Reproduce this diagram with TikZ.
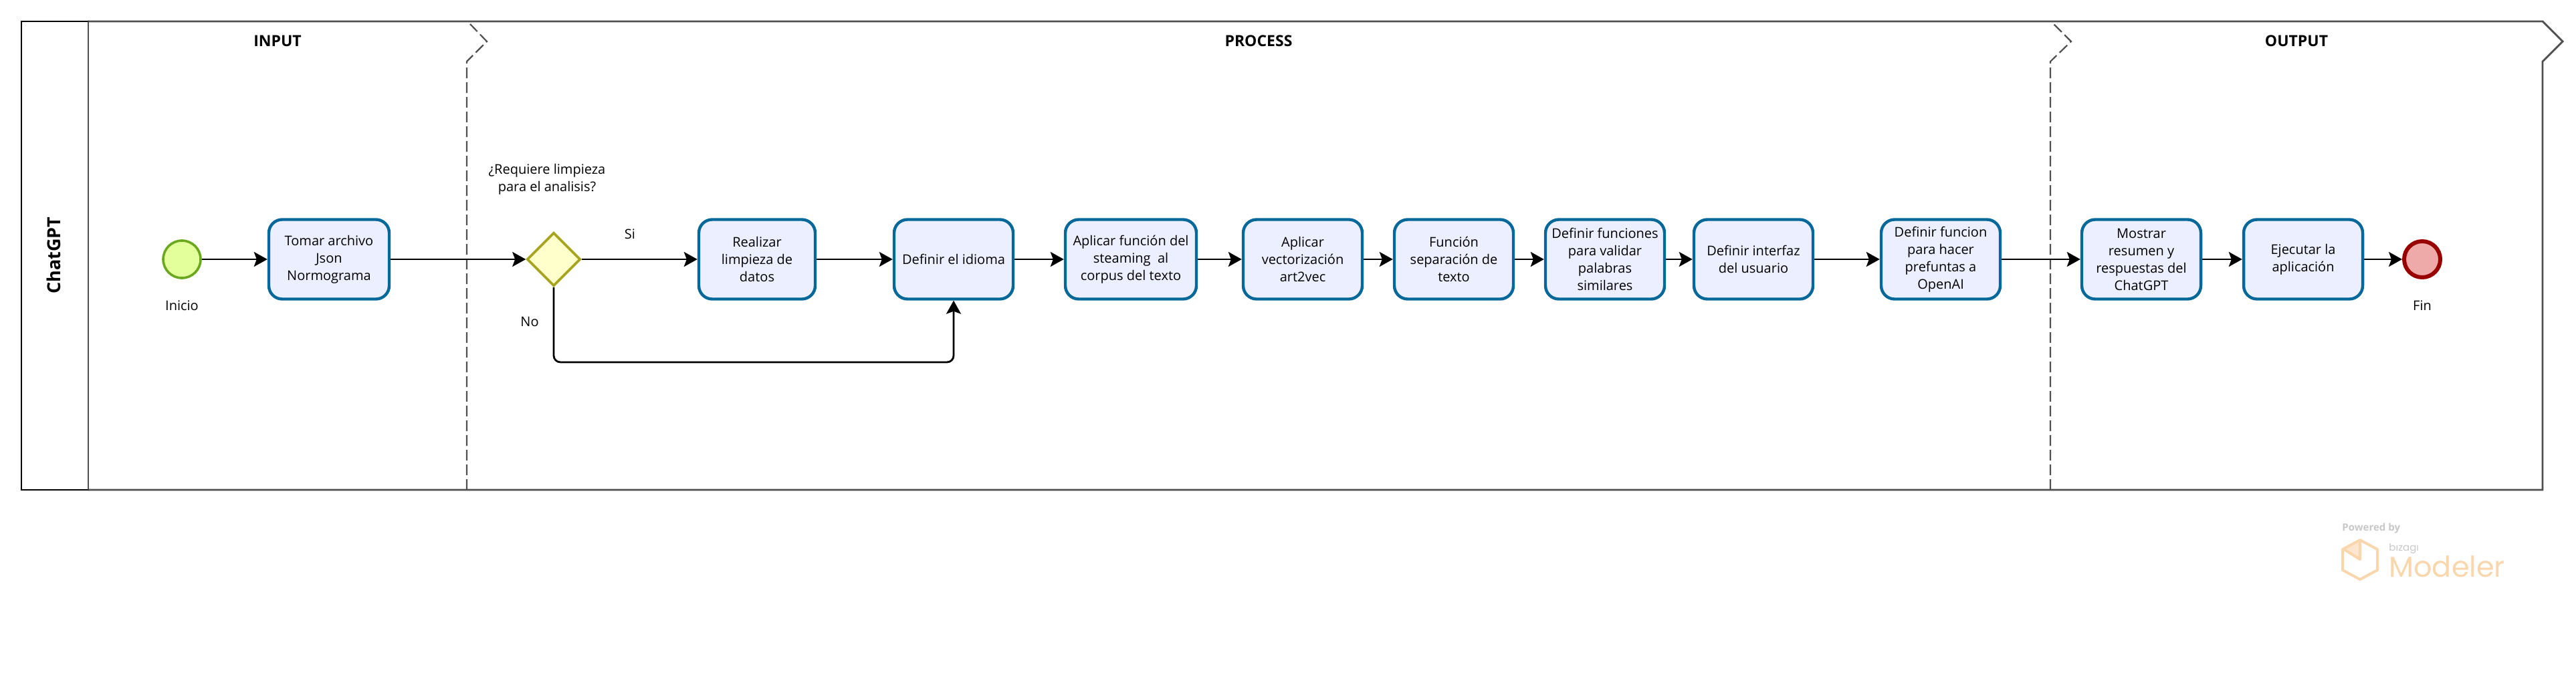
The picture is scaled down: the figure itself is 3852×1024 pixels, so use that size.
\documentclass[tikz,border=0pt]{standalone}
\usepackage{fontspec}
\usepackage{xcolor}
\usetikzlibrary{arrows.meta,shapes.geometric}
\setmainfont{Open Sans}
\newfontfamily\logofont{Poppins}
\definecolor{taskblue}{HTML}{04689B}
\definecolor{taskfill}{HTML}{ECEFFF}
\definecolor{poolgray}{HTML}{505050}
\definecolor{startgreen}{HTML}{6AA91F}
\definecolor{startfill}{HTML}{E2FF9C}
\definecolor{gateolive}{HTML}{A6A31F}
\definecolor{gatefill}{HTML}{FFFFCC}
\definecolor{endred}{HTML}{990000}
\definecolor{endfill}{HTML}{EEA9A9}
\definecolor{logoorange}{HTML}{F9D6AC}
\definecolor{logowedge}{HTML}{FCE6CF}
\definecolor{logogray}{HTML}{C8C8C8}
\tikzset{
    taskbox/.style={draw=taskblue, fill=taskfill, line width=2.2pt, rounded corners=10pt, align=center, minimum width=89pt, minimum height=59.5pt, inner sep=0pt, font=\fontsize{10}{13}\selectfont},
    startev/.style={circle, draw=startgreen, fill=startfill, line width=1.8pt, minimum size=28pt, inner sep=0pt},
    endev/.style={circle, draw=endred, fill=endfill, line width=3pt, minimum size=27pt, inner sep=0pt},
    gatebox/.style={diamond, draw=gateolive, fill=gatefill, line width=1.8pt, minimum size=40pt, inner sep=0pt},
    flowline/.style={draw=black, line width=1.4pt, -{Stealth[length=10pt,width=11pt,inset=2pt]}},
    poolline/.style={draw=poolgray, line width=1.4pt},
    phaseline/.style={draw=poolgray, line width=1.1pt, dash pattern=on 8pt off 3pt},
    phasetitle/.style={font=\fontsize{11.5}{14}\selectfont\bfseries},
    textnote/.style={align=center, font=\fontsize{10}{13}\selectfont}
}

\begin{document}
\begin{tikzpicture}[x=0.5pt,y=-0.5pt]
        \useasboundingbox (0,0) rectangle (3852,1024);

        \draw[poolline] (132,32) -- (3802,32) -- (3832,62) -- (3802,92) -- (3802,733) -- (132,733);
        \draw[draw=black, line width=1.2pt] (32,32) rectangle (132,733);
        \draw[poolline] (132,32) -- (132,733);
        \draw[phaseline] (698,733) -- (698,92) -- (728,62) -- (703,36);
        \draw[phaseline] (3066,733) -- (3066,92) -- (3097,62) -- (3071,36);

        \node[phasetitle, font=\fontsize{13.5}{14}\selectfont\bfseries, rotate=90] (carril) at (80,382) {ChatGPT};
        \node[phasetitle] (input) at (415,61) {INPUT};
        \node[phasetitle] (process) at (1882,61) {PROCESS};
        \node[phasetitle] (output) at (3434,61) {OUTPUT};

        \node[startev] (inicio) at (272,388) {};
        \node[textnote] (inicioLabel) at (272,457) {Inicio};
        \node[taskbox, minimum width=90pt] (tomar) at (492,388) {Tomar archivo\\Json\\Normograma};
        \node[gatebox] (gate) at (828,388) {};
        \node[textnote] (gateLabel) at (818,268) {¿Requiere limpieza\\para el analisis?};
        \node[textnote] (siLabel) at (942,350) {Si};
        \node[textnote] (noLabel) at (792,481) {No};
        \node[taskbox, minimum width=87pt] (limpieza) at (1132,388) {Realizar\\limpieza de\\datos};
        \node[taskbox] (idioma) at (1426,388) {Definir el idioma};
        \node[taskbox, minimum width=98pt] (steaming) at (1691,388) {Aplicar función del\\steaming~~al\\corpus del texto};
        \node[taskbox] (vector) at (1948,388) {Aplicar\\vectorización\\art2vec};
        \node[taskbox] (separa) at (2174,388) {Función\\separación de\\texto};
        \node[taskbox] (validar) at (2400,388) {Definir funciones\\para validar\\palabras\\similares};
        \node[taskbox] (interfaz) at (2622,388) {Definir interfaz\\del usuario};
        \node[taskbox] (openai) at (2902,388) {Definir funcion\\para hacer\\prefuntas a\\OpenAI};
        \node[taskbox] (mostrar) at (3202,388) {Mostrar\\resumen y\\respuestas del\\ChatGPT};
        \node[taskbox] (ejecutar) at (3444,388) {Ejecutar la\\aplicación};
        \node[endev] (fin) at (3622,388) {};
        \node[textnote] (finLabel) at (3622,457) {Fin};

        \coordinate (desvio) at (1126,542);

        \draw[flowline] (inicio) -- (tomar);
        \draw[flowline] (tomar) -- (gate);
        \draw[flowline] (gate) -- (limpieza);
        \draw[flowline] (limpieza) -- (idioma);
        \draw[flowline, rounded corners=5pt] (gate.south) |- (desvio) -| (idioma.south);
        \draw[flowline] (idioma) -- (steaming);
        \draw[flowline] (steaming) -- (vector);
        \draw[flowline] (vector) -- (separa);
        \draw[flowline] (separa) -- (validar);
        \draw[flowline] (validar) -- (interfaz);
        \draw[flowline] (interfaz) -- (openai);
        \draw[flowline] (openai) -- (mostrar);
        \draw[flowline] (mostrar) -- (ejecutar);
        \draw[flowline] (ejecutar) -- (fin);

        \fill[logowedge] (3529,808) -- (3529,837) -- (3505,822) -- cycle;
        \draw[logoorange, line width=2pt, line join=round] (3529,808) -- (3555,822) -- (3555,853) -- (3529,867) -- (3503,853) -- (3503,822) -- cycle;
        \draw[logoorange, line width=2pt, line join=round] (3529,808) -- (3529,837) -- (3505,822);
        \node[anchor=base west, inner sep=0pt, text=logogray, font=\fontsize{7.5}{9}\selectfont\bfseries] (powered) at (3502,794) {Powered by};
        \node[anchor=base west, inner sep=0pt, text=logogray, font=\logofont\fontsize{7.5}{9}\selectfont] (bizagi) at (3572,824) {bızagı};
        \node[anchor=base west, inner sep=0pt, text=logoorange, font=\logofont\fontsize{21.5}{26}\selectfont] (modeler) at (3572,863) {Modeler};
    \end{tikzpicture}
\end{document}
